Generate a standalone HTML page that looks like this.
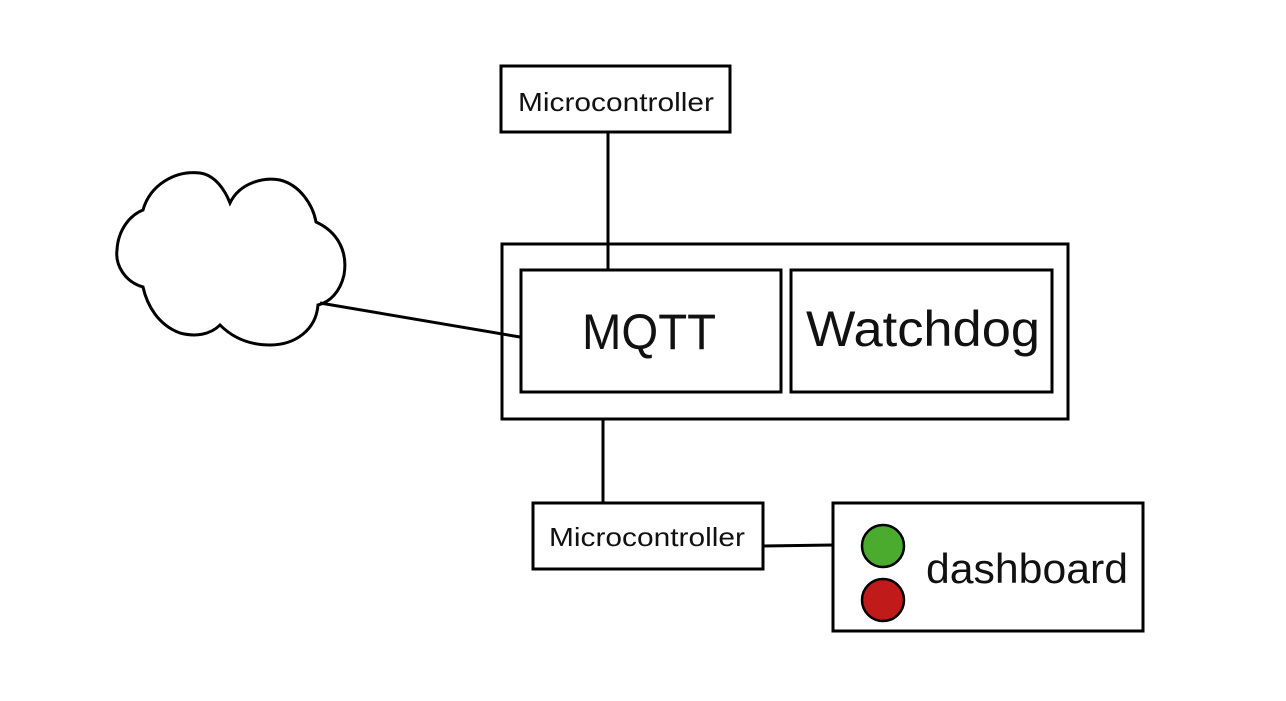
<!DOCTYPE html>
<html><head><style>
body{margin:0;width:1286px;height:696px;background:#fff;overflow:hidden}
svg text{font-family:"Liberation Sans",sans-serif;fill:#111}
</style></head><body>
<svg width="1286" height="696" xmlns="http://www.w3.org/2000/svg">
<g fill="none" stroke="#000" stroke-width="3">
<path d="M143,210 C150,185 175,170 200,173 C215,175 225,190 230,203 C240,182 265,177 280,180 C300,185 313,205 316,222 C338,232 348,252 344,275 C340,292 330,302 318,305 C316,330 295,345 270,345 C245,345 230,335 220,325 C210,335 195,337 180,333 C158,325 147,305 143,287 C125,282 115,265 117,250 C118,230 130,215 143,210 Z"/>
<line x1="320" y1="303" x2="520" y2="337"/>
<rect x="501" y="66" width="229" height="66"/>
<rect x="502" y="244" width="566" height="175"/>
<rect x="521" y="270" width="260" height="122"/>
<rect x="791" y="270" width="261" height="122"/>
<rect x="533" y="503" width="230" height="66"/>
<rect x="833" y="503" width="310" height="128"/>
<line x1="608" y1="132" x2="608" y2="270"/>
<line x1="603" y1="419" x2="603" y2="503"/>
<line x1="763" y1="546" x2="833" y2="545"/>
</g>
<circle cx="883" cy="546" r="21" fill="#4aab2e" stroke="#000" stroke-width="2.5"/>
<circle cx="883" cy="600" r="21" fill="#c01a1a" stroke="#000" stroke-width="2.5"/>
<text x="616" y="111" font-size="26" text-anchor="middle" textLength="196" lengthAdjust="spacingAndGlyphs">Microcontroller</text>
<text x="647" y="546" font-size="26" text-anchor="middle" textLength="196" lengthAdjust="spacingAndGlyphs">Microcontroller</text>
<text x="649" y="349" font-size="50" text-anchor="middle" textLength="134" lengthAdjust="spacingAndGlyphs">MQTT</text>
<text x="923" y="346" font-size="50" text-anchor="middle" textLength="234" lengthAdjust="spacingAndGlyphs">Watchdog</text>
<text x="1027" y="583" font-size="42" text-anchor="middle" textLength="202" lengthAdjust="spacingAndGlyphs">dashboard</text>
</svg>
</body></html>
